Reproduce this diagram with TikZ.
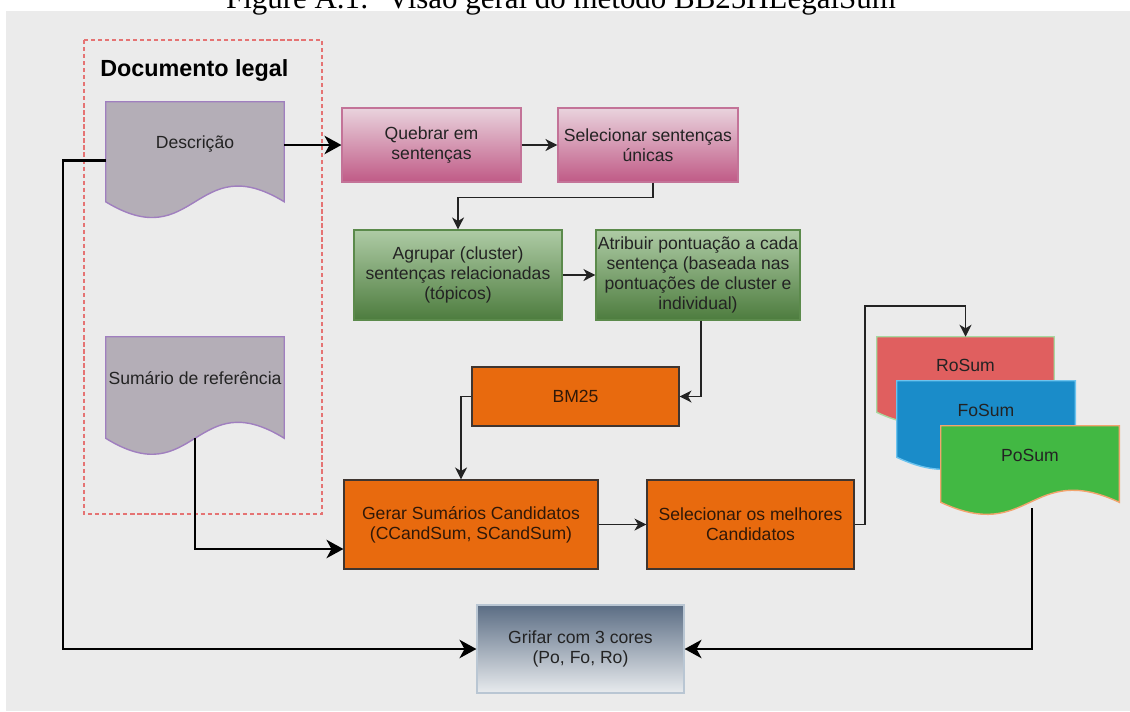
\documentclass[tikz,border=0pt]{standalone}
\usepackage{fontspec}
\setmainfont{Liberation Sans}
\newfontfamily\capfont{Liberation Serif}
\usepackage{xcolor}
\usepackage{tikz}
\usetikzlibrary{arrows.meta,calc,backgrounds}
\definecolor{bggray}{HTML}{EBEBEB}
\definecolor{ink}{HTML}{232323}
\definecolor{dashred}{HTML}{E57373}
\definecolor{docfill}{HTML}{B4AEB7}
\definecolor{docline}{HTML}{A07FBF}
\definecolor{pinktop}{HTML}{E9D3DD}
\definecolor{pinkbot}{HTML}{C05A86}
\definecolor{pinkline}{HTML}{C37398}
\definecolor{greentop}{HTML}{AECBA5}
\definecolor{greenbot}{HTML}{4D7C3E}
\definecolor{greenline}{HTML}{5B8A4B}
\definecolor{orange}{HTML}{E86A0E}
\definecolor{orangeline}{HTML}{3F3530}
\definecolor{oink}{HTML}{301808}
\definecolor{ro}{HTML}{E05F5F}
\definecolor{roline}{HTML}{A8D8A0}
\definecolor{fo}{HTML}{1A8CC9}
\definecolor{foline}{HTML}{6CC3EE}
\definecolor{po}{HTML}{42B843}
\definecolor{poline}{HTML}{F2A46E}
\definecolor{slatetop}{HTML}{5B6D84}
\definecolor{slatebot}{HTML}{E8EBEE}
\definecolor{slateline}{HTML}{B9C6D3}
\newcommand{\px}{0.025cm}
% bottom edge of a document shape is a wave
\newcommand{\docoutline}[2]{%
  \path[#2] (#1.north west) -- (#1.north east) -- (#1.south east)
    .. controls ($(#1.south)!0.545!(#1.north)$) and ($(#1.south)!-0.545!(#1.north)$)
    .. (#1.south west) -- cycle;}
\tikzset{
  txt/.style={font=\fontsize{12.5}{14.4}\selectfont, text=ink, align=center},
  wh/.style 2 args={minimum width=#1*\px, minimum height=#2*\px},
  box/.style={txt, rectangle, inner sep=0pt, line width=0.8pt},
  pinkbox/.style={box, top color=pinktop, bottom color=pinkbot, draw=pinkline},
  greenbox/.style={box, top color=greentop, bottom color=greenbot, draw=greenline},
  orangebox/.style={box, fill=orange, draw=orangeline, text=oink},
  slatebox/.style={box, top color=slatetop, bottom color=slatebot, draw=slateline},
  doc/.style={txt, inner sep=0pt, text height=8.5pt, text depth=12.5pt},
  docpaint/.style={fill=#1, draw=docline, line width=1pt},
  thinarrow/.style={draw=ink, line width=0.9pt, -{Stealth[length=8.5pt,width=8.5pt,inset=2.5pt]}},
  thickarrow/.style={draw=black, line width=2pt, -{Stealth[length=12pt,width=13pt,inset=3.5pt]}},
}
\begin{document}
\begin{tikzpicture}[x=0.025cm, y=-0.025cm]
  \useasboundingbox (0,0) rectangle (1130,711);

  \node[font=\capfont\fontsize{22}{26}\selectfont, text=black, anchor=base] (caption) at (561,8)
    {Figure A.1:\hskip0.6em Visão geral do método BB25HLegalSum};

  % documents
  \node[doc, wh={178}{99.5}] (desc) at (195,151.75) {Descrição};
  \node[doc, wh={178}{101}] (sumref) at (195,387.5) {Sumário de referência};
  \node[doc, wh={177}{75}] (rosum) at (965.5,374.5) {RoSum};
  \node[doc, wh={178}{76}] (fosum) at (986,419) {FoSum};
  \node[doc, wh={178}{76}] (posum) at (1030,464) {PoSum};

  \draw[dashred, line width=0.9pt, dash pattern=on 3pt off 2pt] (84,40) rectangle (322,514);
  \node[font=\bfseries\fontsize{16.6}{20}\selectfont, text=black, inner sep=0pt, anchor=base west] (doctitle) at (100,76) {Documento legal};

  % steps
  \node[pinkbox, wh={179}{74}] (quebrar) at (431.5,145) {Quebrar em\\sentenças};
  \node[pinkbox, wh={180}{74}] (selun) at (648,145) {Selecionar sentenças\\únicas};
  \node[greenbox, wh={208}{90}] (agrupar) at (458,275) {Agrupar (cluster)\\sentenças relacionadas\\(tópicos)};
  \node[greenbox, wh={204}{90}] (atrib) at (698,275) {Atribuir pontuação a cada\\sentença (baseada nas\\pontuações de cluster e\\individual)};
  \node[orangebox, wh={207}{59}] (bm25) at (575.5,396.5) {BM25};
  \node[orangebox, wh={254}{89}] (gerar) at (471,524.5) {Gerar Sumários Candidatos\\(CCandSum, SCandSum)};
  \node[orangebox, wh={207}{89}] (selbest) at (750.5,524.5) {Selecionar os melhores\\Candidatos};
  \node[slatebox, wh={207}{88}] (grifar) at (580.5,649) {Grifar com 3 cores\\(Po, Fo, Ro)};

  \begin{scope}[on background layer]
    \fill[bggray] (6,11) rectangle (1130,711);
    \docoutline{desc}{docpaint=docfill}
    \docoutline{sumref}{docpaint=docfill}
    \docoutline{rosum}{fill=ro, draw=roline, line width=1pt}
    \docoutline{fosum}{fill=fo, draw=foline, line width=1pt}
    \docoutline{posum}{fill=po, draw=poline, line width=1pt}
  \end{scope}

  \coordinate (leftrail) at (63,160.75);
  \coordinate (turn) at (865,306);

  \draw[thickarrow] (quebrar.west -| desc.east) -- (quebrar.west);
  \draw[thinarrow] (quebrar) -- (selun);
  \draw[thinarrow] (selun.south) ++(5,0) -- ++(0,15) -| (agrupar.north);
  \draw[thinarrow] (agrupar) -- (atrib);
  \draw[thinarrow] (atrib.south) ++(3,0) |- (bm25.east);
  \draw[thinarrow] (bm25.west) -| ($(gerar.north)+(-10,0)$);
  \draw[thinarrow] (gerar) -- (selbest);
  \draw[thinarrow] (selbest.east) -| (turn) -| (rosum.north);
  \draw[thickarrow] (sumref.south) |- ($(gerar.west)+(0,24.5)$);
  \draw[thickarrow] ($(desc.west)+(0,9)$) -- (leftrail) |- (grifar.west);
  \draw[thickarrow] ($(posum.south)+(2,6)$) |- (grifar.east);
\end{tikzpicture}
\end{document}
